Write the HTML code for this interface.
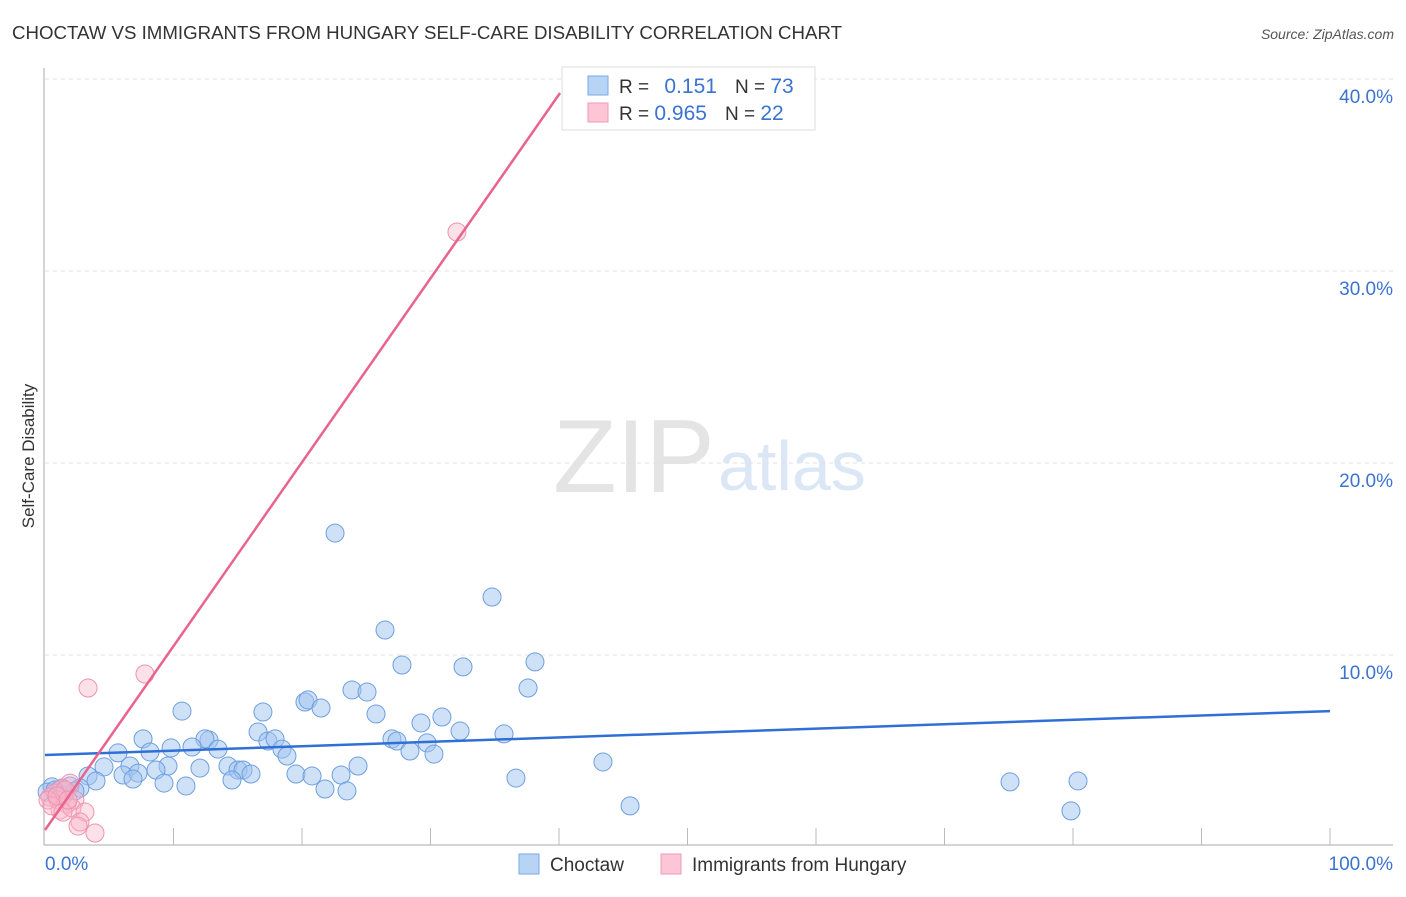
<!DOCTYPE html>
<html><head><meta charset="utf-8"><style>
body{margin:0;background:#fff;font-family:"Liberation Sans",sans-serif}
svg text{font-family:"Liberation Sans",sans-serif}
</style></head><body>
<svg width="1406" height="892" viewBox="0 0 1406 892">
<text x="12" y="39" font-size="18" fill="#333" textLength="830" lengthAdjust="spacingAndGlyphs">CHOCTAW VS IMMIGRANTS FROM HUNGARY SELF-CARE DISABILITY CORRELATION CHART</text>
<text x="1394" y="39" font-size="14" fill="#555" text-anchor="end" font-style="italic">Source: ZipAtlas.com</text>
<text x="553" y="492" font-size="104" fill="#e4e4e4" font-family="Liberation Serif">ZIP</text>
<text x="718" y="490" font-size="70" fill="#dbe7f5">atlas</text>
<text x="34" y="456" font-size="17" fill="#333" transform="rotate(-90 34 456)" text-anchor="middle">Self-Care Disability</text>
<g id="grid"></g>
<g id="axes"></g>
<g id="pts"></g>
<g id="lines"></g>
<g>
<rect x="562" y="67" width="253" height="63" fill="#fff" stroke="#ddd"/>
<rect x="588" y="76" width="20" height="19" fill="#b8d4f5" stroke="#7aaae6"/>
<rect x="588" y="103" width="20" height="19" fill="#fcc6d6" stroke="#f09ab5"/>
<text x="619" y="93" font-size="19" fill="#333">R = <tspan fill="#3b73d1" dx="10" font-size="21">0.151</tspan><tspan dx="18" fill="#333">N = </tspan><tspan fill="#3b73d1" font-size="21">73</tspan></text>
<text x="619" y="120" font-size="19" fill="#333">R = <tspan fill="#3b73d1" font-size="21">0.965</tspan><tspan dx="18" fill="#333">N = </tspan><tspan fill="#3b73d1" font-size="21">22</tspan></text>
</g>
<g>
<rect x="519" y="854" width="20" height="20" fill="#b8d4f5" stroke="#7aaae6"/>
<text x="550" y="871" font-size="19" fill="#333">Choctaw</text>
<rect x="661" y="854" width="20" height="20" fill="#fcc6d6" stroke="#f09ab5"/>
<text x="692" y="871" font-size="19" fill="#333">Immigrants from Hungary</text>
</g>
</svg>
<script>
const yTicks=[10,20,30,40];
const yTickLabels=["10.0%","20.0%","30.0%","40.0%"];
const xTickLabels=["0.0%","100.0%"];
const blueX=[22.57,34.79,26.46,27.78,32.53,38.13,37.59,23.89,25.06,20.23,20.47,21.48,16.96,10.66,25.76,30.89,29.26,32.30,35.72,16.58,27.00,27.39,29.73,12.76,12.45,17.35,17.90,7.63,9.81,11.44,13.46,5.68,8.17,18.44,18.83,28.40,30.27,43.42,6.61,4.59,9.57,12.06,14.24,15.02,15.41,16.03,24.36,8.64,3.35,6.07,7.24,6.85,3.97,19.53,20.78,23.04,36.65,14.55,9.26,10.97,21.79,23.50,75.10,80.39,45.53,79.84,0.54,1.17,1.95,2.72,0.16,1.48,0.78,2.33];
const blueY=[16.35,13.02,11.30,9.48,9.38,9.64,8.28,8.18,8.07,7.55,7.66,7.24,7.03,7.08,6.93,6.77,6.46,6.04,5.89,5.99,5.63,5.52,5.42,5.57,5.63,5.52,5.63,5.63,5.16,5.21,5.10,4.90,4.95,5.10,4.74,5.00,4.84,4.43,4.22,4.17,4.22,4.11,4.22,4.01,4.01,3.80,4.22,4.01,3.70,3.75,3.85,3.54,3.44,3.80,3.70,3.75,3.59,3.49,3.33,3.18,3.02,2.92,3.39,3.44,2.14,1.88,3.13,3.02,3.18,3.07,2.86,2.71,2.97,2.92];
const pinkX=[32.06,7.78,3.35,1.95,1.32,0.78,0.39,1.01,2.33,0.23,1.71,1.17,2.10,0.54,3.11,2.72,2.57,3.89,1.56,0.93,1.40,1.79];
const pinkY=[32.03,9.01,8.28,3.33,3.07,2.81,2.60,2.45,2.45,2.45,2.24,1.93,2.03,2.14,1.82,1.30,1.09,0.73,2.97,2.66,1.82,2.45];
const blueLine=[[0,4.79],[100,7.08]];
const pinkLine=[[0,0.885],[40.08,39.27]];
const NS="http://www.w3.org/2000/svg";
const sx=v=>45+v*12.85, sy=v=>847-v*19.2;
function mk(t,a,p){const e=document.createElementNS(NS,t);for(const k in a)e.setAttribute(k,a[k]);p.appendChild(e);return e;}
const grid=document.getElementById('grid'),axes=document.getElementById('axes'),pts=document.getElementById('pts'),lines=document.getElementById('lines');
yTicks.forEach((t,i)=>{
 const l=mk('line',{x1:45,x2:1393,y1:sy(t),y2:sy(t),stroke:'#e2e2e2','stroke-dasharray':'4,4'},grid);
 
 
 const tx=mk('text',{x:1393,y:sy(t)+24,'font-size':19,fill:'#3b73d1','text-anchor':'end'},grid);
 tx.textContent=yTickLabels[i];
 
 
});
mk('line',{x1:44,x2:44,y1:68,y2:845,stroke:'#aaa'},axes);
mk('line',{x1:44,x2:1393,y1:845,y2:845,stroke:'#aaa'},axes);
for(let i=1;i<=10;i++){const t=mk('line',{x1:sx(i*10),x2:sx(i*10),y1:828,y2:845,stroke:'#bbb'},axes);
 
 }
[[0,'start',45],[1,'end',1393]].forEach(([i,a,x])=>{const t=mk('text',{x:x,y:870,'font-size':19,fill:'#3b73d1','text-anchor':a},axes);t.textContent=xTickLabels[i];
 
 });
blueX.forEach((v,i)=>{const c=mk('circle',{cx:sx(v),cy:sy(blueY[i]),r:9,fill:'rgba(160,196,240,0.5)',stroke:'#6d9fe0','stroke-width':1},pts);
 
 });
pinkX.forEach((v,i)=>{const c=mk('circle',{cx:sx(v),cy:sy(pinkY[i]),r:9,fill:'rgba(250,180,200,0.4)',stroke:'#ee92b0','stroke-width':1},pts);
 
 });
const bl=mk('line',{x1:sx(blueLine[0][0]),y1:sy(blueLine[0][1]),x2:sx(blueLine[1][0]),y2:sy(blueLine[1][1]),stroke:'#2f6fd6','stroke-width':2.5},lines);


const pl=mk('line',{x1:sx(pinkLine[0][0]),y1:sy(pinkLine[0][1]),x2:sx(pinkLine[1][0]),y2:sy(pinkLine[1][1]),stroke:'#e8638e','stroke-width':2.5},lines);


</script>
</body></html>
